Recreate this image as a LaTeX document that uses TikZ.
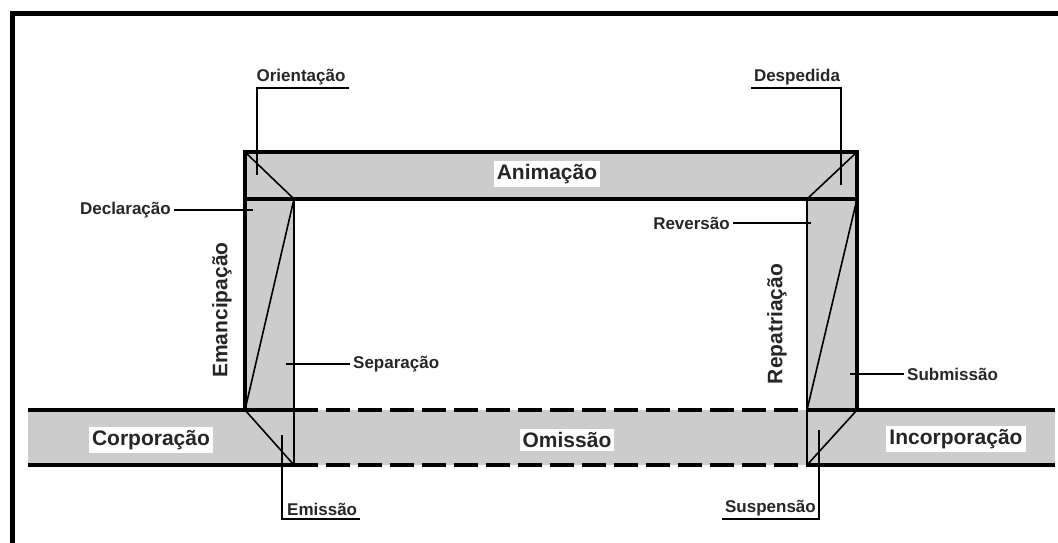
\documentclass[tikz,border=0pt]{standalone}
\usepackage{fontspec}
\setmainfont{Liberation Sans}
\usetikzlibrary{positioning}
\definecolor{bandgray}{gray}{0.80}
\tikzset{
    x=1pt, y=-1pt, % one unit is one pixel of the reference, y grows downwards
    border/.style={line width=3.5pt}, % outer edges of bar, pillars and band
    inner/.style={line width=2.6pt}, % inner edges of the pillars
    miter/.style={line width=1.6pt}, % diagonal lines in the corners
    leader/.style={line width=1.3pt}, % lines from the small labels
    gap/.style={border, dash pattern=on 24pt off 8pt}, % broken band edge
    biglbl/.style={fill=white, inner sep=3pt, text=black!85,
        font=\fontsize{21}{23}\selectfont\bfseries}, % names inside the shapes
    sidelbl/.style={inner sep=0pt, text=black!85, rotate=90,
        font=\fontsize{21}{23}\selectfont\bfseries}, % names beside the pillars
    lbl/.style={inner sep=3pt, text=black!85,
        font=\fontsize{17}{19}\selectfont\bfseries}, % small labels
}
\begin{document}
\begin{tikzpicture}
\useasboundingbox (0,0) rectangle (1058,543);
% frame
\draw[line width=5pt] (12,543) -- (12,14) -- (1058,14);
% fills
\fill[bandgray] (28,410) rectangle (1055,465);
\fill[bandgray] (245,152) rectangle (857,199);
\fill[bandgray] (245,199) rectangle (294,410);
\fill[bandgray] (807,199) rectangle (857,410);
% corner points
\coordinate (tl) at (245,152);
\coordinate (tr) at (857,152);
\coordinate (il) at (294,199);
\coordinate (ir) at (807,199);
\coordinate (ol) at (245,199);
\coordinate (or) at (857,199);
\coordinate (bl) at (245,410);
\coordinate (br) at (857,410);
\coordinate (ml) at (294,410);
\coordinate (mr) at (807,410);
\coordinate (fl) at (294,465);
\coordinate (fr) at (807,465);
% bar and pillars
\draw[border] (bl) -- (tl) -- (tr) -- (br);
\draw[border] (ol) -- (or);
\draw[inner] (il) -- (fl);
\draw[inner] (ir) -- (fr);
% band
\draw[border] (28,410) -- (ml);
\draw[border] (mr) -- (1055,410);
\draw[border] (28,465) -- (fl);
\draw[border] (fr) -- (1055,465);
\draw[gap] (ml) -- (mr);
\draw[gap] (fl) -- (fr);
% diagonals
\draw[miter] (tl) -- (il) -- (bl) -- (fl);
\draw[miter] (tr) -- (ir);
\draw[miter] (or) -- (mr);
\draw[miter] (br) -- (fr);
% names in the shapes
\node[biglbl] (anim) at (547,174) {Animação};
\node[biglbl] (corp) at (151,440) {Corporação};
\node[biglbl] (omis) at (567,440) {Omissão};
\node[biglbl] (inco) at (956,439) {Incorporação};
\node[sidelbl] (eman) at (222,310) {Emancipação};
\node[sidelbl] (repa) at (777,324) {Repatriação};
% small labels
\node[lbl, anchor=south] (ori) at (301,88) {Orientação};
\node[lbl, anchor=south] (desp) at (797,88) {Despedida};
\node[lbl, anchor=east] (decl) at (174,210) {Declaração};
\node[lbl, anchor=west] (sep) at (350,364) {Separação};
\node[lbl, anchor=east] (rev) at (733,223) {Reversão};
\node[lbl, anchor=west] (sub) at (904,374) {Submissão};
\node[lbl, anchor=south west] (emi) at (284,519) {Emissão};
\node[lbl, anchor=south east] (susp) at (819,519) {Suspensão};
% leader ends
\coordinate (oriTip) at (257,175);
\coordinate (despTip) at (841,185);
\coordinate (declTip) at (253,210);
\coordinate (sepTip) at (286,364);
\coordinate (revTip) at (811,223);
\coordinate (subTip) at (850,374);
\coordinate (emiTip) at (282,435);
\coordinate (suspTip) at (819,430);
\draw[leader] (oriTip) |- (ori.south east);
\draw[leader] (despTip) |- (desp.south west);
\draw[leader] (decl) -- (declTip);
\draw[leader] (sepTip) -- (sep);
\draw[leader] (rev) -- (revTip);
\draw[leader] (subTip) -- (sub);
\draw[leader] (emiTip) |- (emi.south east);
\draw[leader] (suspTip) |- (susp.south west);
\end{tikzpicture}
\end{document}
